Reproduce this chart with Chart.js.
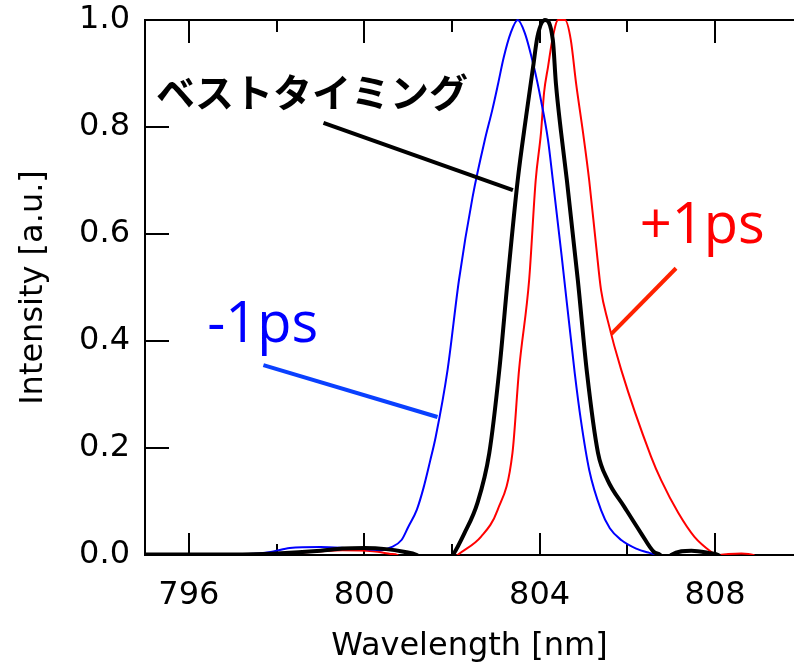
<!DOCTYPE html>
<html>
<head>
<meta charset="utf-8">
<script src="https://cdn.jsdelivr.net/npm/chart.js@4.4.1/dist/chart.umd.min.js"></script>
<style>
  html, body { margin: 0; padding: 0; background: #fff; }
  #wrap { width: 794px; height: 666px; }
</style>
</head>
<body>
<div id="wrap"><canvas id="spectrum" width="794" height="666"></canvas></div>
<script>
// spectra: wavelength [nm] / normalised intensity
const bestWl  = [795.0, 797.0, 798.0, 799.0, 799.5, 800.0, 800.5, 800.9, 801.2, 801.4, 801.9, 802.02, 802.28, 802.58, 802.85, 803.08, 803.27, 803.5, 803.69, 803.85, 803.95, 804.12, 804.3, 804.37, 804.49, 804.62, 804.87, 805.08, 805.33, 805.55, 805.93, 806.31, 806.6, 806.75, 806.85, 806.95, 807.0, 807.46, 807.85, 808.07, 808.2];
const bestInt = [0.001, 0.001, 0.003, 0.008, 0.012, 0.013, 0.011, 0.006, 0.0, -0.01, -0.01, 0.0, 0.04, 0.097, 0.19, 0.346, 0.514, 0.701, 0.819, 0.912, 0.969, 1.0, 0.963, 0.882, 0.789, 0.701, 0.514, 0.34, 0.191, 0.14, 0.09, 0.041, 0.006, 0.0, -0.01, -0.01, 0.0, 0.008, 0.004, 0.0, -0.01];

const minusWl  = [795.0, 796.0, 797.0, 797.6, 797.9, 798.3, 799.0, 799.6, 800.0, 800.4, 800.6, 800.85, 801.0, 801.2, 801.35, 801.5, 801.63, 801.9, 802.16, 802.47, 802.75, 802.92, 803.05, 803.18, 803.34, 803.5, 803.66, 803.87, 804.03, 804.19, 804.3, 804.5, 804.8, 804.94, 805.13, 805.4, 805.6, 805.86, 806.2, 806.5, 806.7];
const minusInt = [0.002, 0.002, 0.002, 0.003, 0.006, 0.013, 0.015, 0.013, 0.011, 0.009, 0.014, 0.028, 0.052, 0.085, 0.125, 0.175, 0.221, 0.346, 0.514, 0.669, 0.776, 0.832, 0.88, 0.93, 0.976, 1.0, 0.976, 0.912, 0.85, 0.776, 0.701, 0.56, 0.34, 0.252, 0.159, 0.084, 0.05, 0.028, 0.012, 0.004, 0.0];

const plusWl  = [795.0, 797.0, 798.5, 799.0, 799.5, 800.2, 800.6, 800.75, 800.9, 802.0, 802.13, 802.66, 803.04, 803.38, 803.53, 803.76, 803.91, 804.03, 804.1, 804.19, 804.3, 804.42, 804.58, 804.71, 804.83, 804.99, 805.13, 805.29, 805.4, 805.55, 805.86, 806.54, 806.77, 807.16, 807.53, 807.91, 808.03, 808.3, 808.6, 808.87, 809.0];
const plusInt = [0.0, 0.001, 0.004, 0.007, 0.009, 0.007, 0.002, 0.0, -0.01, -0.01, 0.0, 0.034, 0.084, 0.191, 0.346, 0.514, 0.701, 0.789, 0.864, 0.912, 0.968, 1.0, 1.0, 0.963, 0.882, 0.789, 0.7, 0.576, 0.495, 0.439, 0.346, 0.184, 0.14, 0.079, 0.034, 0.006, 0.0, 0.002, 0.003, 0.0, -0.01];

const xTickValues  = [796, 798, 800, 802, 804, 806, 808];
const xLabelValues = [796, 800, 804, 808];
const yTickValues  = [0, 0.2, 0.4, 0.6, 0.8, 1.0];

const toPoints = (xs, ys) => xs.map((v, i) => ({ x: v, y: ys[i] }));

// text callouts with leader lines, anchored in data units
const callouts = [
  { text: 'ベストタイミング', color: '#000000', font: 'bold 39px "Noto Sans CJK JP"', at: [795.25, 0.866], baseline: 'middle',
    lineColor: '#000000', from: [799.07, 0.8075], to: [803.39, 0.682] },
  { text: '-1ps', color: '#0000ff', font: '56px "Open Sans"', at: [796.42, 0.398], baseline: 'alphabetic',
    lineColor: '#0a40ff', from: [797.70, 0.355], to: [801.67, 0.258] },
  { text: '+1ps', color: '#ff0000', font: '56px "Open Sans"', at: [806.28, 0.583], baseline: 'alphabetic',
    lineColor: '#ff2200', from: [807.11, 0.536], to: [805.63, 0.413] }
];

const tickMarks = {
  id: 'tickMarks',
  beforeDatasetsDraw(chart) {
    const { ctx, chartArea: a, scales: { x, y } } = chart;
    ctx.save();
    ctx.strokeStyle = '#000';
    ctx.lineWidth = 2;
    ctx.beginPath();
    ctx.moveTo(a.left, a.top);
    ctx.lineTo(a.right, a.top);
    xTickValues.forEach(v => {
      const px = Math.round(x.getPixelForValue(v));
      const major = xLabelValues.includes(v);
      ctx.moveTo(px, a.bottom);
      ctx.lineTo(px, a.bottom - (major ? 22 : 11));
      ctx.moveTo(px, a.top);
      ctx.lineTo(px, a.top + (major ? 23 : 12));
    });
    yTickValues.forEach(v => {
      const py = Math.round(y.getPixelForValue(v));
      ctx.moveTo(a.left, py);
      ctx.lineTo(a.left + 24, py);
    });
    ctx.stroke();
    ctx.restore();
  }
};

const calloutPlugin = {
  id: 'callouts',
  afterDatasetsDraw(chart) {
    const { ctx, scales: { x, y } } = chart;
    ctx.save();
    callouts.forEach(c => {
      ctx.strokeStyle = c.lineColor;
      ctx.lineWidth = 4;
      ctx.beginPath();
      ctx.moveTo(x.getPixelForValue(c.from[0]), y.getPixelForValue(c.from[1]));
      ctx.lineTo(x.getPixelForValue(c.to[0]), y.getPixelForValue(c.to[1]));
      ctx.stroke();
      ctx.fillStyle = c.color;
      ctx.font = c.font;
      ctx.textAlign = 'left';
      ctx.textBaseline = c.baseline;
      ctx.fillText(c.text, x.getPixelForValue(c.at[0]), y.getPixelForValue(c.at[1]));
    });
    ctx.restore();
  }
};

const axisFont = { family: '"DejaVu Sans", Verdana, sans-serif', size: 32 };
const lineClip = { left: 0, top: 6, right: 0, bottom: 0 };

// keep the plot frame fixed: drop the label overhang chart.js reserves
const noOverhang = s => { s.paddingTop = 0; s.paddingBottom = 0; s.paddingLeft = 0; s.paddingRight = 0; };

new Chart(document.getElementById('spectrum'), {
  type: 'line',
  data: {
    datasets: [
      { label: 'best', data: toPoints(bestWl, bestInt), borderColor: '#000000', borderWidth: 4, clip: lineClip },
      { label: '-1ps', data: toPoints(minusWl, minusInt), borderColor: '#0000ff', borderWidth: 2, clip: lineClip },
      { label: '+1ps', data: toPoints(plusWl, plusInt), borderColor: '#ff0000', borderWidth: 2, clip: lineClip }
    ]
  },
  options: {
    responsive: false,
    animation: false,
    devicePixelRatio: 1,
    layout: { padding: { top: 20, right: 0, bottom: 0, left: 14 } },
    elements: {
      point: { radius: 0 },
      line: { cubicInterpolationMode: 'monotone', fill: false }
    },
    plugins: { legend: { display: false }, tooltip: { enabled: false } },
    scales: {
      x: {
        type: 'linear',
        min: 795,
        max: 809.8,
        afterBuildTicks: s => { s.ticks = xTickValues.map(v => ({ value: v })); },
        afterFit: s => { s.height = 111; noOverhang(s); },
        ticks: {
          color: '#000',
          font: axisFont,
          padding: 21,
          maxRotation: 0,
          callback: v => (xLabelValues.includes(v) ? String(v) : '')
        },
        grid: { display: false, drawTicks: false },
        border: { display: true, color: '#000', width: 2 },
        title: { display: true, text: 'Wavelength [nm]', color: '#000', font: axisFont, padding: 0 }
      },
      y: {
        min: 0,
        max: 1,
        afterBuildTicks: s => { s.ticks = yTickValues.map(v => ({ value: v })); },
        afterFit: s => { s.width = 131; noOverhang(s); },
        ticks: {
          color: '#000',
          font: axisFont,
          padding: 15,
          callback: v => v.toFixed(1)
        },
        grid: { display: false, drawTicks: false },
        border: { display: true, color: '#000', width: 2 },
        title: { display: true, text: 'Intensity [a.u.]', color: '#000', font: axisFont, padding: 0 }
      }
    }
  },
  plugins: [tickMarks, calloutPlugin]
});
</script>
</body>
</html>
